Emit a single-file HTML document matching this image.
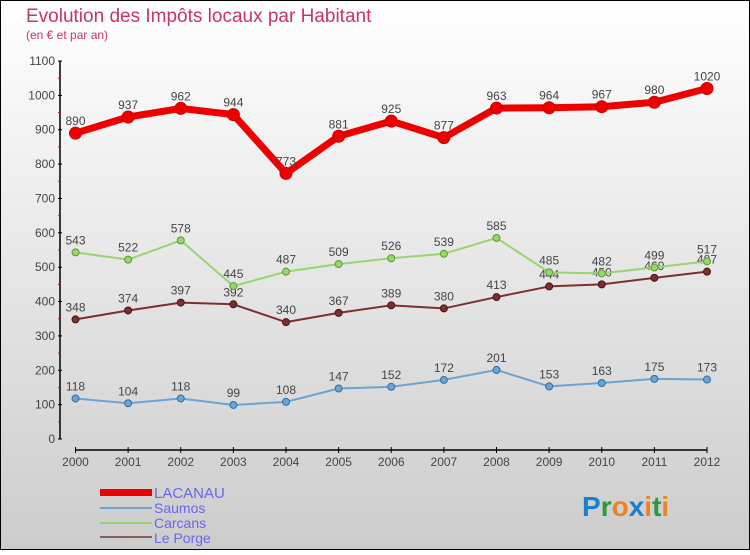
<!DOCTYPE html>
<html><head><meta charset="utf-8"><style>
body{margin:0;width:750px;height:550px;overflow:hidden;font-family:"Liberation Sans",sans-serif}
svg text{font-family:"Liberation Sans",sans-serif}
</style></head><body>
<svg id="c" width="750" height="550" xmlns="http://www.w3.org/2000/svg">
<defs><linearGradient id="bg" x1="0" y1="0" x2="0" y2="1"><stop offset="0" stop-color="#ffffff"/><stop offset="1" stop-color="#cccccc"/></linearGradient></defs>
<rect x="0.5" y="0.5" width="749" height="549" fill="url(#bg)" stroke="#000"/>
<text x="26" y="22" font-size="19" fill="#c8365f">Evolution des Impôts locaux par Habitant</text>
<text x="26" y="39" font-size="12" fill="#c8365f">(en € et par an)</text>
<g id="axes"></g><g id="series"></g>
<g>
<rect x="100" y="489" width="52" height="7" fill="#e00"/>
<text x="154" y="498" font-size="15" fill="#6666ee">LACANAU</text>
<line x1="100" y1="508" x2="152" y2="508" stroke="#6fa3cf" stroke-width="2"/>
<text x="154" y="513" font-size="14" fill="#6666ee">Saumos</text>
<line x1="100" y1="523" x2="152" y2="523" stroke="#98d46f" stroke-width="2"/>
<text x="154" y="528" font-size="14" fill="#6666ee">Carcans</text>
<line x1="100" y1="537" x2="152" y2="537" stroke="#8a5a5a" stroke-width="2"/>
<text x="154" y="543" font-size="14" fill="#6666ee">Le Porge</text>
</g>
<text x="582" y="516" font-size="28" font-weight="bold"><tspan fill="#1a7fd0">P</tspan><tspan fill="#2a9a3a">r</tspan><tspan fill="#f08020">o</tspan><tspan fill="#1a7fd0">x</tspan><tspan fill="#f08020">i</tspan><tspan fill="#2a9a3a">t</tspan><tspan fill="#f08020">i</tspan></text>
</svg>
<script>
const years=["2000","2001","2002","2003","2004","2005","2006","2007","2008","2009","2010","2011","2012"];
const lacanau=[890,937,962,944,773,881,925,877,963,964,967,980,1020];
const saumos=[118,104,118,99,108,147,152,172,201,153,163,175,173];
const carcans=[543,522,578,445,487,509,526,539,585,485,482,499,517];
const lePorge=[348,374,397,392,340,367,389,380,413,444,450,469,487];
const yTicks=[0,100,200,300,400,500,600,700,800,900,1000,1100];
const NS="http://www.w3.org/2000/svg";
const xs=i=>75.5+i*(707-75.5)/12;
const ys=v=>439-v*(378/1100);
function mk(t,a,p){const e=document.createElementNS(NS,t);for(const k in a)e.setAttribute(k,a[k]);p.appendChild(e);return e;}
const ax=document.getElementById('axes'),se=document.getElementById('series');
let yl=mk('line',{x1:60,y1:ys(1100),x2:60,y2:439,stroke:'#000','stroke-width':1.5},ax);


yTicks.forEach(v=>{
 mk('line',{x1:58,y1:ys(v),x2:62,y2:ys(v),stroke:'#000'},ax);
 if(v<1100){const m=mk('line',{x1:58,y1:ys(v+50),x2:60,y2:ys(v+50),stroke:'#e00'},ax);}
 const t=mk('text',{x:55,y:ys(v)+4,'font-size':12,'text-anchor':'end',fill:'#444'},ax);t.textContent=v;
 
 
});
let xl=mk('line',{x1:75.5,y1:450,x2:707,y2:450,stroke:'#000','stroke-width':1.5},ax);


years.forEach((y,i)=>{
 mk('line',{x1:xs(i),y1:447,x2:xs(i),y2:453,stroke:'#000'},ax);
 const t=mk('text',{x:xs(i),y:466,'font-size':12,'text-anchor':'middle',fill:'#444'},ax);t.textContent=y;
 
 
});
function series(d,col,w,r,name,dark){
 const g=mk('g',{},se);
 
 
 mk('polyline',{points:d.map((v,i)=>xs(i)+','+ys(v)).join(' '),fill:'none',stroke:col,'stroke-width':w,'stroke-linejoin':'round'},g);
 d.forEach((v,i)=>{
  const c=mk('circle',{cx:xs(i),cy:ys(v),r:r,fill:col,stroke:dark,'stroke-width':1},g);
  
  
  const t=mk('text',{x:xs(i),y:ys(v)-8,'font-size':12,'text-anchor':'middle',fill:'#444'},g);t.textContent=v;
  
  
 });
}
series(saumos,'#6fa3cf',2,3.5,'saumos','#2a6fa8');
series(lePorge,'#7a3030',2,3.5,'le-porge','#4a1010');
series(carcans,'#98d46f',2,3.5,'carcans','#5a9a30');
series(lacanau,'#ee0000',7,6,'lacanau','#c00');
</script>
</body></html>
